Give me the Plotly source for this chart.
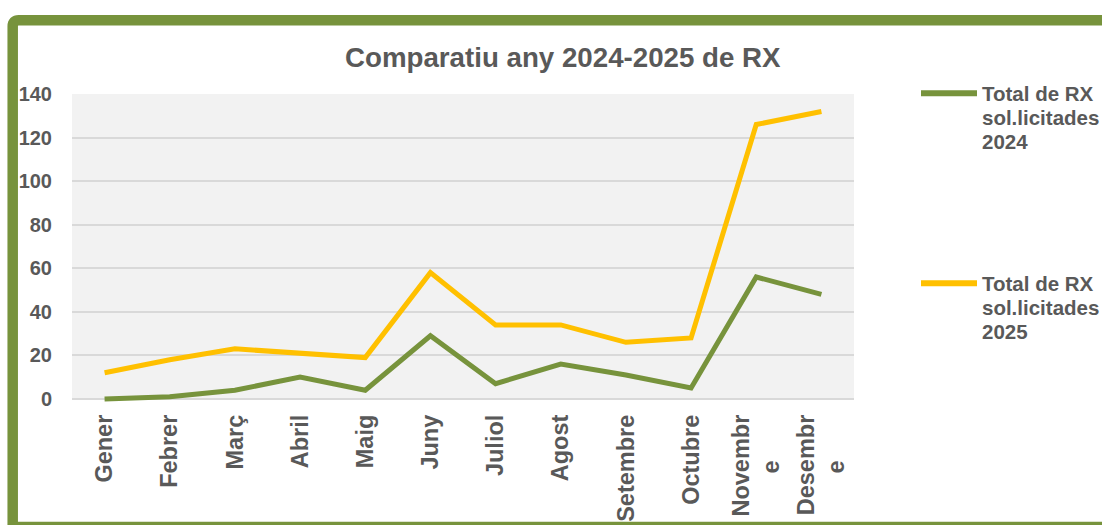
import plotly.graph_objects as go

NB = "\u00a0"
months = ["Gener", "Febrer", "Març", "Abril", "Maig", "Juny", "Juliol",
          "Agost", "Setembre", "Octubre", "Novembr<br>e" + NB * 7, "Desembr<br>e" + NB * 7]
rx_2024 = [0, 1, 4, 10, 4, 29, 7, 16, 11, 5, 56, 48]
rx_2025 = [12, 18, 23, 21, 19, 58, 34, 34, 26, 28, 126, 132]
series_names = ["Total de RX sol.licitades 2024", "Total de RX sol.licitades 2025"]
y_ticks = [0, 20, 40, 60, 80, 100, 120, 140]
y_min, y_max = 0, 140

GREEN = "#77933C"
ORANGE = "#FFC000"
GREY = "#595959"
FONT = "Liberation Sans, Arial, sans-serif"

W, H = 1102, 525
L, R, T = 72, 248, 94
ZERO_PX = 399                       # pixel row of the 0 gridline
UNIT = (ZERO_PX - T) / (y_max - y_min)
PAD_UNITS = 1.4                     # small room below 0 so the line isn't clipped
B = H - (ZERO_PX + PAD_UNITS * UNIT)
PW, PH = W - L - R, H - T - B
Y0_PX = H - B                       # bottom of the plot area


def px(x):
    return (x - L) / PW


def py(y):
    return (Y0_PX - y) / PH


fig = go.Figure()
fig.add_trace(go.Scatter(x=list(range(len(months))), y=rx_2024, mode="lines",
                         line=dict(color=GREEN, width=5), name=series_names[0],
                         cliponaxis=False))
fig.add_trace(go.Scatter(x=list(range(len(months))), y=rx_2025, mode="lines",
                         line=dict(color=ORANGE, width=5), name=series_names[1],
                         cliponaxis=False))

shapes = []
# grey plot background from 0 up to the top
shapes.append(dict(type="rect", xref="paper", yref="y", x0=0, x1=1,
                   y0=y_min, y1=y_max, fillcolor="#F2F2F2", line=dict(width=0),
                   layer="below"))
# outer frame with rounded top-left corner
fx, fy, rr = 12.7, 20.3, 6
fb, fr = 527, 1125
path = (f"M {px(fx)},{py(fb)} L {px(fx)},{py(fy + rr)} "
        f"Q {px(fx)},{py(fy)} {px(fx + rr)},{py(fy)} L {px(fr)},{py(fy)} "
        f"L {px(fr)},{py(fb)} Z")
shapes.append(dict(type="path", xref="paper", yref="paper", path=path,
                   line=dict(color=GREEN, width=10.5), fillcolor="rgba(0,0,0,0)",
                   layer="below"))

annotations = []
legend_items = [(series_names[0], GREEN, 93.3), (series_names[1], ORANGE, 283.3)]
for name, col, yc in legend_items:
    shapes.append(dict(type="line", xref="paper", yref="paper",
                       x0=px(921), x1=px(977), y0=py(yc), y1=py(yc),
                       line=dict(color=col, width=6)))
    parts = ["Total de RX", "sol.licitades", name.split()[-1]]
    for i, t in enumerate(parts):
        annotations.append(dict(text=f"<b>{t}</b>", xref="paper", yref="paper",
                                x=px(980), y=py(yc + i * 24.2), xanchor="left",
                                yanchor="middle", showarrow=False,
                                font=dict(family=FONT, size=20.5, color=GREY)))

annotations.append(dict(text="<b>Comparatiu any 2024-2025 de RX</b>", xref="paper",
                        yref="paper", x=px(562.5), y=py(57), xanchor="center",
                        yanchor="middle", showarrow=False,
                        font=dict(family=FONT, size=27.7, color=GREY)))

fig.update_layout(
    width=W, height=H,
    margin=dict(l=L, r=R, t=T, b=B, pad=0, autoexpand=False),
    paper_bgcolor="white",
    plot_bgcolor="white",
    showlegend=False,
    shapes=shapes,
    annotations=annotations,
    font=dict(family=FONT, color=GREY),
)
fig.update_xaxes(
    range=[-0.5, len(months) - 0.5],
    tickmode="array", tickvals=list(range(len(months))),
    ticktext=[f"<b>{m}</b>" for m in months],
    tickangle=-90, tickfont=dict(family=FONT, size=23.5, color=GREY),
    showgrid=False, zeroline=False, showline=False, ticks="",
    ticklabelstandoff=7, automargin=False,
)
fig.update_yaxes(
    range=[y_min - PAD_UNITS, y_max], tickmode="array", tickvals=y_ticks,
    ticktext=[f"<b>{v}</b>" for v in y_ticks],
    tickfont=dict(family=FONT, size=20, color=GREY),
    showgrid=True, gridcolor="#D9D9D9", gridwidth=1.5,
    zeroline=True, zerolinecolor="#D9D9D9", zerolinewidth=1.5,
    showline=False, ticks="", ticklabelstandoff=19, automargin=False,
)

fig.write_html("out.html", config={"displayModeBar": False},
               post_script="document.body.style.margin='0';document.body.style.overflow='hidden';")
